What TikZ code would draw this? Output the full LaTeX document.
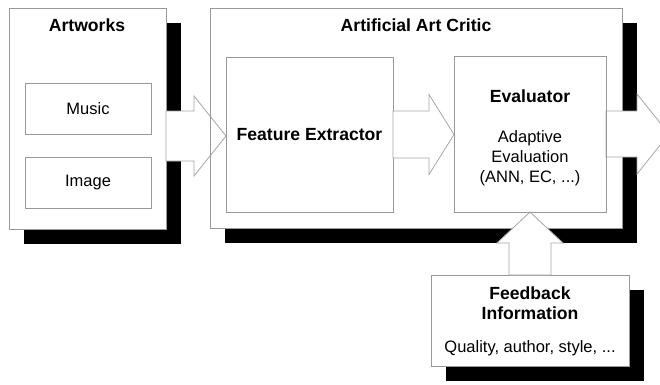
\documentclass[tikz,border=0pt]{standalone}
\usepackage{fontspec}
\setmainfont{Liberation Sans}
\usetikzlibrary{calc,backgrounds}
\begin{document}
\begin{tikzpicture}[x=1pt,y=1pt,
  box/.style={draw=black!40, line width=0.8pt, fill=white, outer sep=0pt, inner sep=0pt},
  boxline/.style={draw=black!40, line width=0.8pt},
  barrow/.style={draw=black!35, line width=0.8pt, fill=white, line join=miter},
  ttl/.style={font=\fontsize{17.6}{20}\selectfont\bfseries, inner sep=0pt, align=center},
  txt/.style={font=\fontsize{16.5}{20}\selectfont, inner sep=0pt, align=center},
  shade/.style={fill=black}]
\useasboundingbox (0,0) rectangle (660,384);
\clip (0,0) rectangle (660,384);

% boxes
\node[box, minimum width=157pt, minimum height=221pt] (art) at (87.5,265.5) {};
\node[ttl] (arttitle) at (87,359) {Artworks};
\node[box, txt, minimum width=126pt, minimum height=51pt] (music) at (88,275.5) {Music};
\node[box, txt, minimum width=126pt, minimum height=51pt] (image) at (88,201.5) {Image};

\node[box, minimum width=412pt, minimum height=220pt] (aac) at (416,266) {};
\node[ttl] (aactitle) at (416,359) {Artificial Art Critic};
\node[box, ttl, minimum width=167pt, minimum height=155pt] (fe) at (309.5,249.5) {Feature Extractor};
\node[box, minimum width=152pt, minimum height=156pt] (eval) at (530,250) {};
\node[ttl] (evaltitle) at (530,288) {Evaluator};
\node[txt] (evaltext) at (530,226) {Adaptive\\Evaluation\\(ANN, EC, ...)};

\node[box, minimum width=198pt, minimum height=91pt] (fb) at (530,63.5) {};
\node[ttl] (fbtitle) at (530,81) {Feedback\\Information};
\node[txt] (fbtext) at (530,36) {Quality, author, style, ...};

\coordinate (outtip) at (669,250);

% shadows
\begin{scope}[on background layer]
  \foreach \n in {art,aac,fb}
    \fill[shade] ($(\n.south west)+(15,-15)$) rectangle ($(\n.north east)+(15,-15)$);
\end{scope}

% block arrows
\draw[barrow] let \p1=(art.east), \p2=(fe.west) in
  (\x1,273pt) -- (\x2-32pt,273pt) -- (\x2-32pt,288pt) -- (\x2,248pt)
  -- (\x2-32pt,208pt) -- (\x2-32pt,223pt) -- (\x1,223pt) -- cycle;
\draw[barrow] let \p1=(fe.east), \p2=(eval.west) in
  (\x1,273pt) -- (\x2-25pt,273pt) -- (\x2-25pt,289.5pt) -- (\x2,249.5pt)
  -- (\x2-25pt,209.5pt) -- (\x2-25pt,226pt) -- (\x1,226pt) -- cycle;
\draw[barrow] let \p1=(eval.east), \p2=(outtip) in
  (\x1,273pt) -- (\x2-32pt,273pt) -- (\x2-32pt,290pt) -- (\x2,250pt)
  -- (\x2-32pt,210pt) -- (\x2-32pt,227pt) -- (\x1,227pt) -- cycle;
\draw[barrow] let \p1=(fb.north), \p2=(eval.south) in
  (\x1-21pt,\y1) -- (\x1-21pt,\y2-31pt) -- (\x1-33pt,\y2-31pt) -- (\x2,\y2)
  -- (\x1+33pt,\y2-31pt) -- (\x1+21pt,\y2-31pt) -- (\x1+21pt,\y1) -- cycle;

% borders seen through the arrows
\draw[boxline] (aac.north west) -- (aac.south west);
\draw[boxline] (fe.north west) -- (fe.south west);
\draw[boxline] (eval.north east) -- (eval.south east);
\draw[boxline] (eval.south west) -- (eval.south east);
\end{tikzpicture}
\end{document}
